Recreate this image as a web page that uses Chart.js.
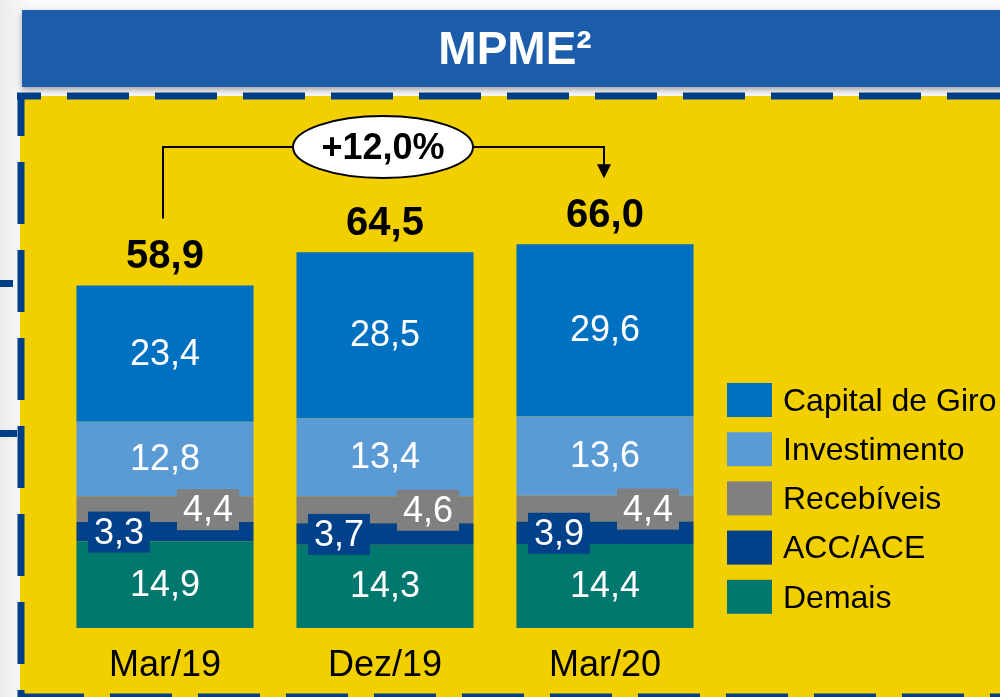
<!DOCTYPE html>
<html lang="pt">
<head>
  <meta charset="UTF-8">
  <title>MPME</title>
  <script src="https://cdn.jsdelivr.net/npm/chart.js"></script>
  <style>
    html, body { margin: 0; padding: 0; background: #f3f3f3; }
    #wrap { width: 1000px; height: 697px; position: relative; }
  </style>
</head>
<body>
  <div id="wrap"><canvas id="chart" width="1000" height="697"></canvas></div>
  <script>
    // data
    const categories = ['Mar/19', 'Dez/19', 'Mar/20'];
    const demais = [14.9, 14.3, 14.4];
    const accAce = [3.3, 3.7, 3.9];
    const recebiveis = [4.4, 4.6, 4.4];
    const investimento = [12.8, 13.4, 13.6];
    const capitalGiro = [23.4, 28.5, 29.6];
    const totals = [58.9, 64.5, 66.0];
    const growthLabel = '+12,0%';
    const title = 'MPME²';

    const FONT = 'Arial, "Liberation Sans", sans-serif';
    const fmt = v => v.toFixed(1).replace('.', ',');

    // page furniture: grey backdrop, blue title bar, yellow panel, dashed frame
    const backdrop = {
      id: 'backdrop',
      beforeDraw(chart) {
        const ctx = chart.ctx;
        ctx.save();
        const g = ctx.createLinearGradient(0, 0, 30, 0);
        g.addColorStop(0, '#ececec');
        g.addColorStop(1, '#fafafa');
        ctx.fillStyle = g;
        ctx.fillRect(0, 0, 1000, 697);

        // title bar with a soft shadow
        ctx.shadowColor = 'rgba(0,0,0,0.35)';
        ctx.shadowBlur = 6;
        ctx.shadowOffsetY = 3;
        ctx.fillStyle = '#1c5dab';
        ctx.fillRect(22, 10, 990, 77);
        ctx.shadowColor = 'transparent';

        // yellow panel
        ctx.fillStyle = '#f2d000';
        ctx.fillRect(20, 96, 990, 610);

        // dashed frame
        ctx.strokeStyle = '#003f87';
        ctx.lineWidth = 7;
        ctx.setLineDash([62, 26]);
        ctx.lineDashOffset = 38;
        ctx.beginPath(); ctx.moveTo(17, 96); ctx.lineTo(1000, 96); ctx.stroke();
        ctx.lineDashOffset = 22;
        ctx.beginPath(); ctx.moveTo(21, 96); ctx.lineTo(21, 697); ctx.stroke();
        ctx.lineDashOffset = 83;
        ctx.beginPath(); ctx.moveTo(17, 697); ctx.lineTo(1000, 697); ctx.stroke();
        ctx.setLineDash([]);

        // stray marks on the left edge of the slide
        ctx.fillStyle = '#003f87';
        ctx.fillRect(0, 280, 13, 7);
        ctx.fillRect(0, 430, 17, 7);
        ctx.restore();
      },
      afterDraw(chart) {
        const ctx = chart.ctx;
        ctx.save();
        ctx.fillStyle = '#ffffff';
        ctx.font = 'bold 46px ' + FONT;
        ctx.textAlign = 'center';
        ctx.textBaseline = 'middle';
        ctx.fillText(title, 515, 51);
        ctx.restore();
      }
    };

    // values inside the bars, totals above them, growth bubble and legend
    const labels = {
      id: 'labels',
      afterDatasetsDraw(chart) {
        const ctx = chart.ctx;
        ctx.save();
        ctx.textAlign = 'center';
        ctx.textBaseline = 'middle';

        chart.data.datasets.forEach((ds, di) => {
          const meta = chart.getDatasetMeta(di);
          meta.data.forEach((bar, i) => {
            const v = ds.data[i];
            const cy = (bar.y + bar.base) / 2;
            ctx.font = '36px ' + FONT;
            if (ds.tag === 'acc' || ds.tag === 'rec') {
              const cx = ds.tag === 'acc' ? bar.x - 46 : bar.x + 43;
              ctx.fillStyle = ds.backgroundColor;
              ctx.fillRect(cx - 31, cy - 20, 62, 41);
              ctx.fillStyle = '#ffffff';
              ctx.fillText(fmt(v), cx, cy + 2);
            } else {
              ctx.fillStyle = '#ffffff';
              ctx.fillText(fmt(v), bar.x, cy + 1);
            }
          });
        });

        // totals
        const topMeta = chart.getDatasetMeta(chart.data.datasets.length - 1);
        ctx.fillStyle = '#000000';
        ctx.font = 'bold 40px ' + FONT;
        ctx.textBaseline = 'alphabetic';
        topMeta.data.forEach((bar, i) => {
          ctx.fillText(fmt(totals[i]), bar.x, bar.y - 17);
        });

        // growth connector between first and last bar
        const first = topMeta.data[0];
        const last = topMeta.data[topMeta.data.length - 1];
        const lineY = 147;
        const bx = (first.x + last.x) / 2 - 2;
        ctx.strokeStyle = '#000000';
        ctx.lineWidth = 2;
        ctx.beginPath();
        ctx.moveTo(first.x - 2, first.y - 67);
        ctx.lineTo(first.x - 2, lineY);
        ctx.lineTo(last.x - 1, lineY);
        ctx.lineTo(last.x - 1, last.y - 78);
        ctx.stroke();
        ctx.fillStyle = '#000000';
        ctx.beginPath();
        ctx.moveTo(last.x - 8, last.y - 80);
        ctx.lineTo(last.x + 6, last.y - 80);
        ctx.lineTo(last.x - 1, last.y - 66);
        ctx.closePath();
        ctx.fill();

        ctx.beginPath();
        ctx.ellipse(bx, lineY, 90, 31, 0, 0, Math.PI * 2);
        ctx.fillStyle = '#ffffff';
        ctx.fill();
        ctx.stroke();
        ctx.fillStyle = '#000000';
        ctx.font = 'bold 36px ' + FONT;
        ctx.textBaseline = 'middle';
        ctx.fillText(growthLabel, bx, lineY + 2);

        // category labels under the bars
        const xs = chart.scales.x;
        ctx.font = '36px ' + FONT;
        categories.forEach((c, i) => {
          ctx.fillText(c, xs.getPixelForValue(i), 666);
        });

        // legend, top series first
        ctx.textAlign = 'left';
        ctx.font = '32px ' + FONT;
        const items = chart.data.datasets.slice().reverse();
        items.forEach((ds, k) => {
          const y = 400 + k * 49.2;
          ctx.fillStyle = ds.backgroundColor;
          ctx.fillRect(727, y - 17, 45, 34);
          ctx.fillStyle = '#000000';
          ctx.fillText(ds.label, 783, y + 2);
        });
        ctx.restore();
      }
    };

    new Chart(document.getElementById('chart'), {
      type: 'bar',
      data: {
        labels: categories,
        datasets: [
          { label: 'Demais', data: demais, backgroundColor: '#00786e' },
          { label: 'ACC/ACE', data: accAce, backgroundColor: '#00418a', tag: 'acc' },
          { label: 'Recebíveis', data: recebiveis, backgroundColor: '#808080', tag: 'rec' },
          { label: 'Investimento', data: investimento, backgroundColor: '#5b9bd5' },
          { label: 'Capital de Giro', data: capitalGiro, backgroundColor: '#0070c0' }
        ]
      },
      options: {
        responsive: false,
        animation: false,
        layout: { padding: { left: 55, right: 285, top: 162, bottom: 69 } },
        datasets: { bar: { categoryPercentage: 1.0, barPercentage: 0.805, borderWidth: 0 } },
        plugins: { legend: { display: false }, tooltip: { enabled: false } },
        scales: {
          x: { stacked: true, display: false },
          y: { stacked: true, display: false, min: 0, max: 80 }
        }
      },
      plugins: [backdrop, labels]
    });
  </script>
</body>
</html>
